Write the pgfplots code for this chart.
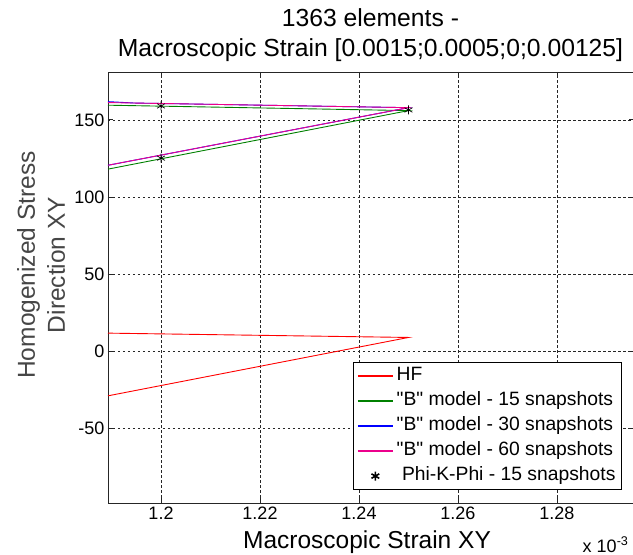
\documentclass[border=0pt]{standalone}
\usepackage{pgfplots}
\pgfplotsset{compat=1.18}
\usepackage{fontspec}
\setmainfont{Liberation Sans}
\newfontfamily\qfont{Liberation Sans}
\definecolor{mgreen}{RGB}{0,128,0}
\definecolor{ylab}{RGB}{70,70,70}
\newcommand{\q}{{\qfont"}}
\begin{document}
\begin{tikzpicture}
\begin{axis}[
  at={(0pt,0pt)}, anchor=south west,
  scale only axis, width=526pt, height=431pt,
  xmin=1.18929, xmax=1.29556, ymin=-98.1, ymax=181,
  xtick={1.2,1.22,1.24,1.26,1.28},
  ytick={-50,0,50,100,150},
  xticklabels={1.2,1.22,1.24,1.26,1.28},
  yticklabels={-50,0,50,100,150},
  tick align=inside, major tick length=5pt,
  axis line style={line width=0.9pt, black!85},
  every tick/.style={black!85, line width=0.8pt},
  grid=major,
  major grid style={black!85, line width=0.7pt, dash pattern=on 2.5pt off 2.5pt},
  tick label style={font=\fontsize{18}{20}\selectfont},
  /pgf/number format/assume math mode=true,
  clip=true,
  legend style={at={(axis description cs:0.977,0.0302)}, anchor=south east,
    draw=black, line width=0.8pt, fill=white,
    font=\fontsize{19.3}{21}\selectfont,
    inner xsep=4pt, inner ysep=1pt, row sep=0pt, column sep=1pt,
    nodes={text height=13.8pt, text depth=4.2pt, inner ysep=3.5pt, inner xsep=2pt}},
  legend cell align=left,
  legend image code/.code={\draw[mark repeat=2,mark phase=2,#1,line width=1.6pt] plot coordinates {(0pt,0pt)(17.5pt,0pt)(35pt,0pt)};},
]
\addplot[red, line width=0.9pt] coordinates {(1.18929,-28.7) (1.25,9.1) (1.18929,11.9)};
\addlegendentry{HF}
\addplot[color=mgreen, line width=0.9pt] coordinates {(1.18929,118.1) (1.25,156.0) (1.18929,159.5)};
\addlegendentry{\q B\q\ model - 15 snapshots}
\addplot[color=blue, line width=0.9pt] coordinates {(1.18929,120.6) (1.25,157.9) (1.19465,160.9) (1.18929,161.8)};
\addlegendentry{\q B\q\ model - 30 snapshots}
\addplot[color=magenta, line width=0.9pt] coordinates {(1.18929,120.6) (1.25,157.9) (1.19465,160.9) (1.18929,161.2)};
\addlegendentry{\q B\q\ model - 60 snapshots}
\addplot[only marks, mark=asterisk, mark size=4.5pt, black, line width=0.7pt] coordinates {(1.2,125.2) (1.25,156.4) (1.2,159.0)};
\addlegendentry{\ Phi-K-Phi - 15 snapshots}
\end{axis}
\node[anchor=base, font=\fontsize{24.7}{28}\selectfont] at (262.5pt,476pt) {1363 elements -};
\node[anchor=base, font=\fontsize{24.7}{28}\selectfont] at (262.5pt,446.3pt) {Macroscopic Strain [0.0015;0.0005;0;0.00125]};
\node[anchor=base, font=\fontsize{24.5}{28}\selectfont] at (259pt,-46pt) {Macroscopic Strain XY};
\node[anchor=base east, font=\fontsize{18}{20}\selectfont] at (524pt,-49pt) {x 10\textsuperscript{-3}};
\node[rotate=90, anchor=base, text=ylab, font=\fontsize{24.5}{28}\selectfont] at (-73pt,238pt) {Homogenized Stress};
\node[rotate=90, anchor=base, text=ylab, font=\fontsize{24.5}{28}\selectfont] at (-43pt,238pt) {Direction XY};
\pgfresetboundingbox
\path[use as bounding box] (-108pt,-52pt) rectangle (525pt,503pt);
\end{tikzpicture}
\end{document}
